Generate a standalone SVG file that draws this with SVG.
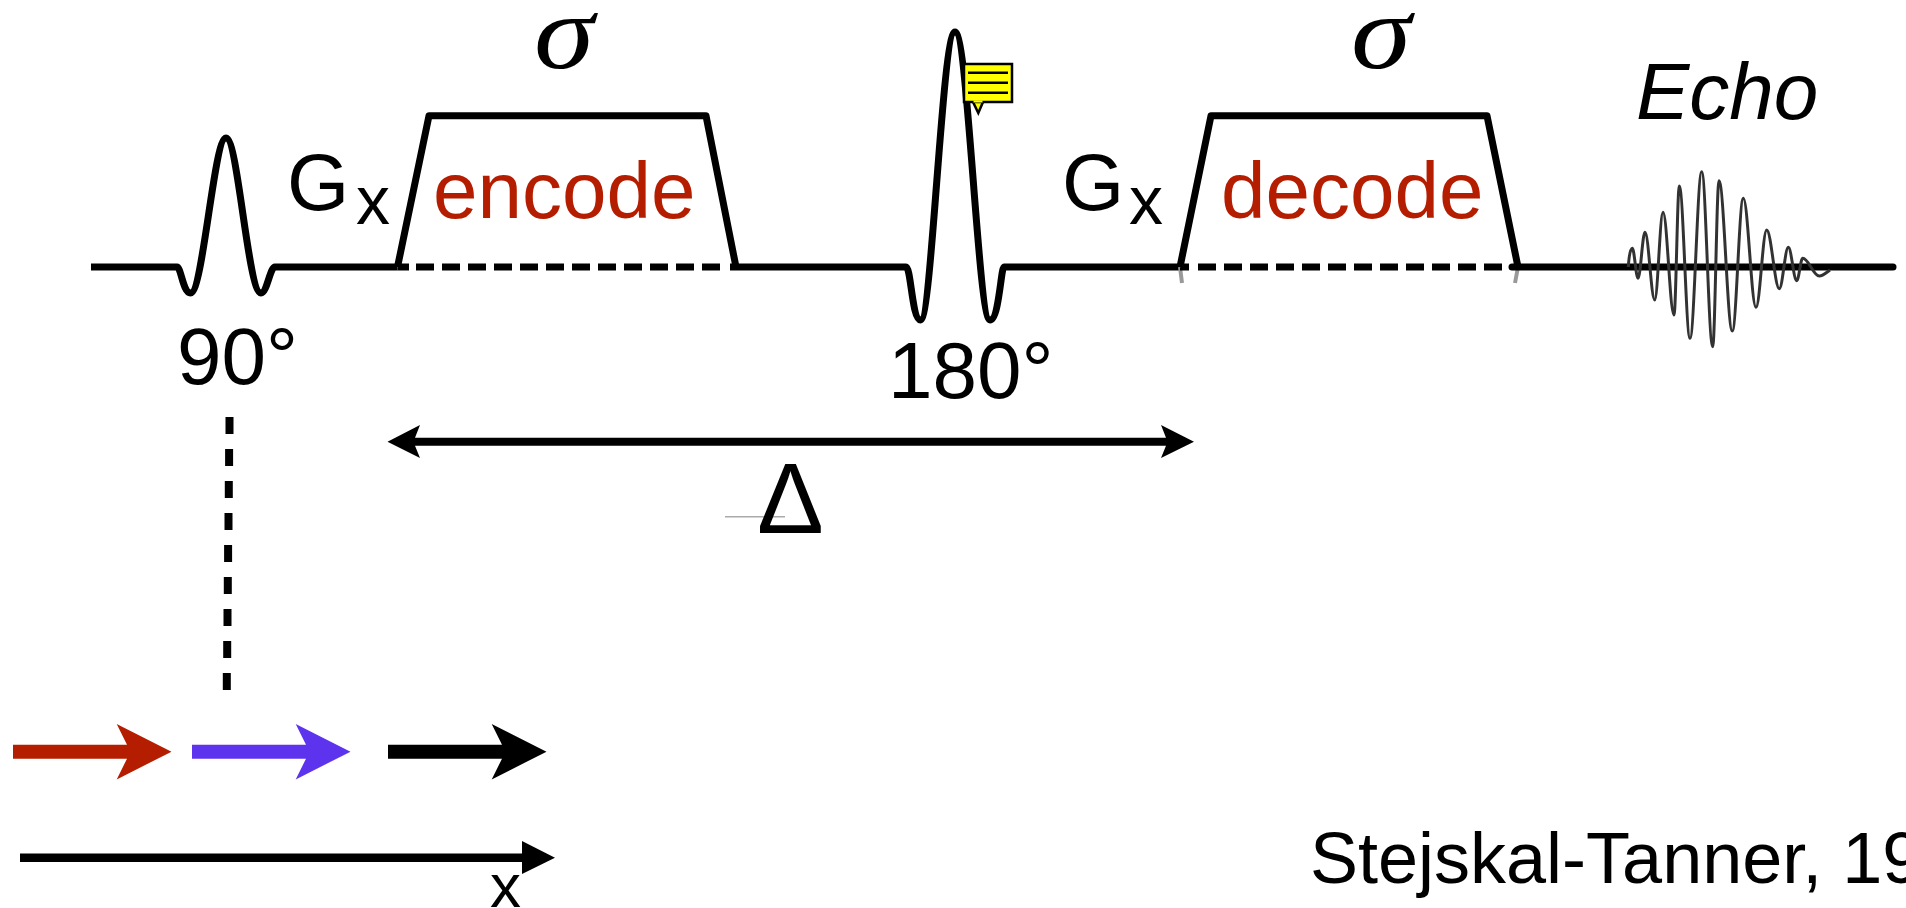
<svg xmlns="http://www.w3.org/2000/svg" width="1906" height="908" viewBox="0 0 1906 908">
<style>
text{font-family:"Liberation Sans",Arial,sans-serif;fill:#000}
.big{font-size:80px}
.sub{font-size:68px}
.red{font-size:80px;fill:#b51d00}
.sig{font-family:"Liberation Serif","Times New Roman",serif;font-style:italic;font-size:106px}
.wave{fill:none;stroke:#000;stroke-width:7;stroke-linejoin:round}
.dash{fill:none;stroke:#000;stroke-width:7;stroke-dasharray:18 8}
.ghost{fill:none;stroke:#999;stroke-width:4}
</style>
<defs>
<filter id="soft" x="-5%" y="-5%" width="110%" height="110%"><feGaussianBlur stdDeviation="0.6"/></filter>
<path id="spin" d="M0 -7H114L103.700 -27.700L158.500 0L103.700 27.700L114 7H0Z"/>
</defs>
<rect width="1906" height="908" fill="#fff"/>
<g id="sequence" filter="url(#soft)">
<path class="wave" d="M91 267H177C181 267 183 293 190.500 293C203 293 214 138 226 138C238 138 248 293 261 293C267 293 270 267 275 267H397.500"/>
<path class="wave" d="M397.500 267H409M397.500 267L429 115.700H706L736 267"/>
<path class="dash" d="M416 267H728"/>
<path class="wave" d="M730 267H906C911 267 912 320 920.500 320C932 320 942 32 955 32C968 32 978 320 990 320C999 320 1001 267 1004 267H1180"/>
<path class="ghost" d="M1180 267L1182 283"/>
<path class="wave" d="M1180 267H1189M1180 267L1211 115.700H1487L1518 267"/>
<path class="dash" d="M1198 267H1504"/>
<path class="ghost" d="M1518 267L1515 283"/>
<path class="wave" d="M1512 267H1893" stroke-linecap="round"/>
<path id="echo" fill="none" stroke="#333" stroke-width="3" d="M1628.300 267C1629 256 1630.300 248.300 1632.300 248.300C1634.350 248.300 1635.950 278.300 1638 278.300C1640.500 278.300 1642.500 232.300 1645 232.300C1648.500 232.300 1651.200 300 1654.700 300C1657.700 300 1660 212.300 1663 212.300C1667 212.300 1670 315 1674 315C1675.900 315 1677.400 186 1679.300 186C1683.200 186 1686.100 338.300 1690 338.300C1694.200 338.300 1697.500 171.700 1701.700 171.700C1705.700 171.700 1708.700 346.700 1712.700 346.700C1715 346.700 1716.700 180.700 1719 180.700C1723.800 180.700 1727.500 331 1732.300 331C1736.300 331 1739.300 198.300 1743.300 198.300C1747.900 198.300 1751.400 307.300 1756 307.300C1759.900 307.300 1762.800 230 1766.700 230C1771.200 230 1774.800 288.700 1779.300 288.700C1782.500 288.700 1785.100 247.300 1788.300 247.300C1791.300 247.300 1793.700 280.700 1796.700 280.700C1798.900 280.700 1800.500 258.300 1802.700 258.300C1808.700 258.300 1813.300 276 1819.300 276C1823 276 1827 272 1830 270"/>
</g>
<g id="label-sigma-1"><text class="sig" transform="translate(534 68) scale(1.15 1)">σ</text></g>
<g id="label-sigma-2"><text class="sig" transform="translate(1351 68) scale(1.15 1)">σ</text></g>
<g id="label-gx-1"><text class="big" x="287" y="210">G</text><text class="sub" x="356" y="224">x</text></g>
<g id="label-gx-2"><text class="big" x="1062" y="210">G</text><text class="sub" x="1129" y="224">x</text></g>
<g id="label-encode"><text class="red" x="433" y="218">encode</text></g>
<g id="label-decode"><text class="red" x="1221" y="218">decode</text></g>
<g id="label-90"><text class="big" x="177" y="384">90°</text></g>
<g id="label-180"><text class="big" x="888" y="398">180°</text></g>
<g id="label-echo"><text class="big" x="1636" y="119" font-style="italic">Echo</text></g>
<g id="note">
<path d="M973 102L978.300 113L983 102" fill="#ff0" stroke="#000" stroke-width="2.500"/>
<rect x="964" y="64" width="48" height="38" fill="#ff0" stroke="#000" stroke-width="2.500"/>
<path d="M968 72.700H1008M968 82.700H1008M968 92.700H1008" stroke="#000" stroke-width="2.500"/>
<path d="M973.500 101.500H982.500" stroke="#ff0" stroke-width="2"/>
</g>
<g id="connectors">
<path id="delta-span" d="M387.500 441.700L420 425L415 437.700H1166L1161 425L1194 441.700L1161 458L1166 445.700H415L420 458Z"/>
<path id="dropline" d="M229.500 417V434M229.100 449V466M228.800 481V498M228.500 513V530M228.100 545V562M227.800 577V594M227.500 609V626M227.200 641V658M226.800 673V690" stroke="#000" stroke-width="8" fill="none"/>
<use id="spin-red" href="#spin" x="13" y="751.700" fill="#b51d00"/>
<use id="spin-blue" href="#spin" x="192" y="751.700" fill="#5e33ee"/>
<use id="spin-black" href="#spin" x="388" y="751.700" fill="#000"/>
<path id="x-axis" d="M20 853.400H522V841L555 857.700L522 874V862H20Z"/>
</g>
<g id="label-delta">
<path d="M725 516.700H785" stroke="#aaa" stroke-width="1.500"/>
<text x="757" y="533" font-size="100">Δ</text>
</g>
<g id="label-x"><text x="490" y="907" font-size="62">x</text></g>
<g id="citation"><text x="1310" y="883" font-size="72">Stejskal-Tanner, 19</text></g>
</svg>
